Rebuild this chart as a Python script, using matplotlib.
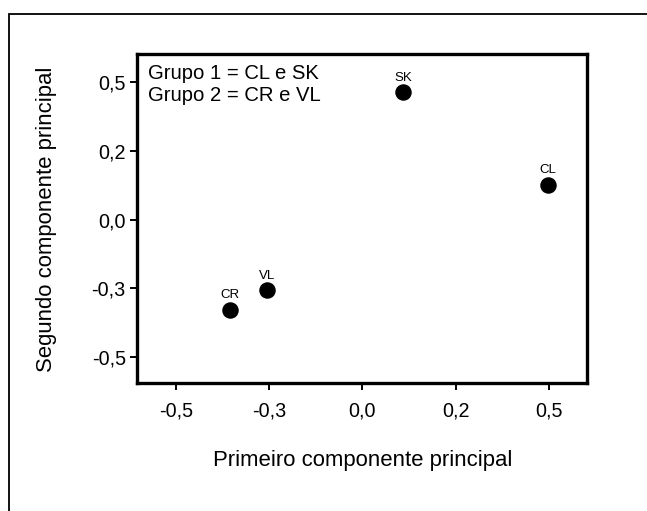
import matplotlib
matplotlib.use("Agg")
import matplotlib.pyplot as plt
from matplotlib.patches import Rectangle

plt.rcParams['font.family'] = ['Liberation Sans', 'DejaVu Sans']

# PCA scores of the four groups
names = ["SK", "CL", "VL", "CR"]
pc1 = [0.11, 0.498, -0.255, -0.354]
pc2 = [0.464, 0.127, -0.257, -0.327]

tick_vals = [-0.5, -0.25, 0.0, 0.25, 0.5]
tick_labels = ["-0,5", "-0,3", "0,0", "0,2", "0,5"]

fig = plt.figure(figsize=(6.47, 5.11), dpi=100)
ax = fig.add_axes([0.2117, 0.25, 0.6956, 0.6443])

ax.scatter(pc1, pc2, s=118, color="black", zorder=3)
for n, x, y in zip(names, pc1, pc2):
    ax.annotate(n, (x, y), xytext=(0, 8.4), textcoords="offset points",
                ha="center", va="baseline", fontsize=9.5)

ax.set_xlim(-0.604, 0.602)
ax.set_ylim(-0.595, 0.603)
ax.set_xticks(tick_vals)
ax.set_xticklabels(tick_labels)
ax.set_yticks(tick_vals)
ax.set_yticklabels(tick_labels)
ax.tick_params(axis="both", direction="out", length=5, width=1.4, labelsize=14.2)
ax.tick_params(axis="x", pad=8)
ax.tick_params(axis="y", pad=3)
for s in ax.spines.values():
    s.set_linewidth(2.4)

ax.text(0.024, 0.97, "Grupo 1 = CL e SK\nGrupo 2 = CR e VL", transform=ax.transAxes,
        ha="left", va="top", fontsize=14.6, linespacing=1.2)

fig.text(362.5 / 647, 1 - 466 / 511, "Primeiro componente principal",
         ha="center", va="baseline", fontsize=15.9)
fig.text(47 / 647, 1 - 219 / 511, "Segundo componente principal",
         ha="center", va="center", rotation=90, fontsize=15.9)

# outer frame, open at right and bottom
fig.patches.append(Rectangle((9 / 647, -0.1), 1.2, 1.1 - 14 / 511,
                             transform=fig.transFigure, fill=False,
                             edgecolor="black", linewidth=1.3))

fig.savefig("out.png", dpi=100)
